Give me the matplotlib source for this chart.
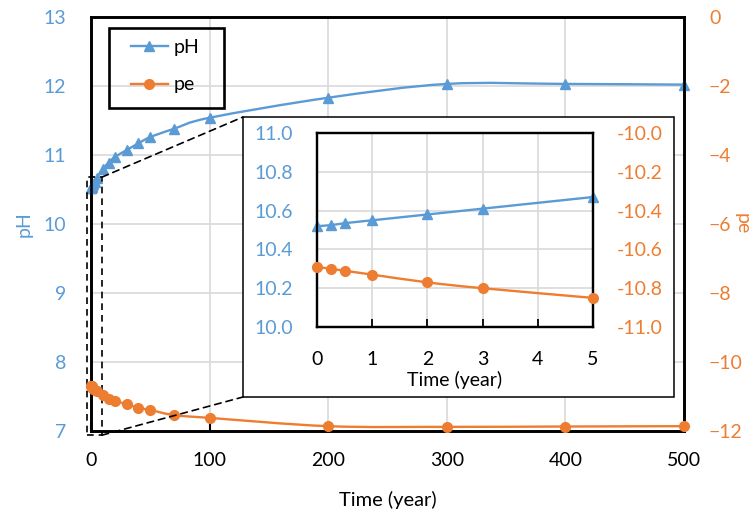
import matplotlib
matplotlib.use("Agg")
import matplotlib.pyplot as plt
from matplotlib.path import Path
from matplotlib.patches import PathPatch, Rectangle, ConnectionPatch
from matplotlib.lines import Line2D

plt.rcParams["font.family"] = ["Lato", "DejaVu Sans"]
plt.rcParams["font.size"] = 14

# data
time_yr = [0, 0.25, 0.5, 1, 2, 3, 5, 10, 15, 20, 30, 40, 50, 70, 100, 200, 300, 400, 500]
ph_vals = [10.52, 10.525, 10.535, 10.55, 10.58, 10.61, 10.67, 10.80, 10.89, 10.97,
           11.07, 11.17, 11.26, 11.38, 11.54, 11.83, 12.03, 12.03, 12.02]
pe_vals = [-10.69, -10.70, -10.71, -10.73, -10.77, -10.80, -10.85, -10.96, -11.07, -11.13,
           -11.22, -11.33, -11.39, -11.54, -11.62, -11.86, -11.88, -11.87, -11.86]
main_xticks = [0, 100, 200, 300, 400, 500]
ph_ticks = [7, 8, 9, 10, 11, 12, 13]
pe_ticks = [-12, -10, -8, -6, -4, -2, 0]
inset_xticks = [0, 1, 2, 3, 4, 5]
inset_ph_ticks = [10.0, 10.2, 10.4, 10.6, 10.8, 11.0]
inset_pe_ticks = [-11.0, -10.8, -10.6, -10.4, -10.2, -10.0]

BLUE = "#5B9BD5"
ORANGE = "#ED7D31"
GRID = "#D9D9D9"
W, H = 753, 517


def smooth_path(x, y):
    # Excel-style smoothed line: Catmull-Rom segments as cubic Beziers
    verts = [(x[0], y[0])]
    codes = [Path.MOVETO]
    n = len(x)
    for i in range(n - 1):
        x0, y0 = (x[i - 1], y[i - 1]) if i > 0 else (x[i], y[i])
        x3, y3 = (x[i + 2], y[i + 2]) if i + 2 < n else (x[i + 1], y[i + 1])
        c1 = (x[i] + (x[i + 1] - x0) / 6, y[i] + (y[i + 1] - y0) / 6)
        c2 = (x[i + 1] - (x3 - x[i]) / 6, y[i + 1] - (y3 - y[i]) / 6)
        verts += [c1, c2, (x[i + 1], y[i + 1])]
        codes += [Path.CURVE4] * 3
    return Path(verts, codes)


def draw_series(ax, x, y, color, marker, ms):
    ax.add_patch(PathPatch(smooth_path(x, y), fill=False, edgecolor=color,
                           lw=1.7, zorder=3, clip_on=False))
    ax.plot(x, y, ls="none", marker=marker, color=color, markersize=ms,
            zorder=4, clip_on=False)


def draw_grid(ax, xs, ys):
    for v in xs:
        ax.axvline(v, color=GRID, lw=1.2, zorder=0.5)
    for v in ys:
        ax.axhline(v, color=GRID, lw=1.2, zorder=0.5)


def fx(px):
    return px / W


def fy(py):
    return 1 - py / H


fig = plt.figure(figsize=(W / 100, H / 100), dpi=100)

# ---- main chart ----
ax = fig.add_axes([fx(91), fy(431), (684 - 91) / W, (431 - 17) / H])
ax2 = ax.twinx()
ax.set_zorder(0)
ax2.set_zorder(1)

draw_grid(ax, main_xticks[1:-1], ph_ticks[1:-1])
draw_series(ax, time_yr, ph_vals, BLUE, "^", 7.5)
draw_series(ax2, time_yr, pe_vals, ORANGE, "o", 7)

ax.set_xlim(0, 500)
ax.set_ylim(7, 13)
ax2.set_ylim(-12, 0)
ax.set_xticks(main_xticks)
ax.set_yticks(ph_ticks)
ax2.set_yticks(pe_ticks)
for a in (ax, ax2):
    for s in a.spines.values():
        s.set_linewidth(1.9)
        s.set_color("black")
ax.tick_params(axis="x", direction="in", length=6, width=1.5, pad=15, colors="black")
ax.tick_params(axis="y", length=0, pad=18, labelcolor=BLUE)
ax2.tick_params(axis="y", length=0, pad=18, labelcolor=ORANGE)

ax.set_xlabel("Time (year)", fontsize=14.5)
ax.xaxis.set_label_coords(0.5, -0.167)
ax.xaxis.label.set_va("center")
ax.set_ylabel("pH", color=BLUE, va="center", ha="center")
ax.yaxis.set_label_coords(-0.113, 0.5)
ax2.set_ylabel("pe", color=ORANGE, rotation=-90, va="center", ha="center")
ax2.yaxis.set_label_coords(1.098, 0.5)

# legend: contents placed without frame, frame drawn as its own box
handles = [Line2D([], [], color=BLUE, marker="^", lw=1.7, markersize=7.5),
           Line2D([], [], color=ORANGE, marker="o", lw=1.7, markersize=7)]
leg = ax2.legend(handles, ["pH", "pe"], loc="upper left",
                 bbox_to_anchor=(fx(131), fy(39)), bbox_transform=fig.transFigure,
                 borderaxespad=0, borderpad=0, labelspacing=1.05,
                 handlelength=1.9, handletextpad=0.3, frameon=False)
fig.add_artist(Rectangle((fx(109), fy(108)), (224 - 109) / W, (108 - 28) / H,
                         transform=fig.transFigure, fill=False,
                         edgecolor="black", lw=1.9, zorder=2))

# ---- zoom box and connectors ----
zoom_x0, zoom_x1 = -3.4, 9.3
zoom_y0, zoom_y1 = 6.94, 10.68
ax.add_patch(Rectangle((zoom_x0, zoom_y0), zoom_x1 - zoom_x0, zoom_y1 - zoom_y0,
                       fill=False, ls=(0, (4, 3)), lw=1.2, color="black",
                       clip_on=False, zorder=5))

box_l, box_r, box_t, box_b = fx(243), fx(674), fy(117), fy(397)
for (dx, dy), (bx, by) in (((zoom_x1, zoom_y1), (box_l, box_t)),
                           ((zoom_x1, zoom_y0), (box_l, box_b))):
    fig.add_artist(ConnectionPatch((dx, dy), (bx, by), coordsA=ax.transData,
                                   coordsB=fig.transFigure, ls=(0, (4, 3)),
                                   lw=1.2, color="black", zorder=2))

fig.add_artist(Rectangle((box_l, box_b), box_r - box_l, box_t - box_b,
                         transform=fig.transFigure, facecolor="white",
                         edgecolor="black", lw=1.1, zorder=3))

# ---- inset ----
ins = fig.add_axes([fx(317), fy(327), (593 - 317) / W, (327 - 133) / H])
ins2 = ins.twinx()
ins.set_zorder(4)
ins2.set_zorder(5)
n5 = sum(1 for t in time_yr if t <= 5)
draw_grid(ins, inset_xticks[1:-1], inset_ph_ticks[1:-1])
draw_series(ins, time_yr[:n5], ph_vals[:n5], BLUE, "^", 7.5)
draw_series(ins2, time_yr[:n5], pe_vals[:n5], ORANGE, "o", 7)
ins.set_xlim(0, 5)
ins.set_ylim(10.0, 11.0)
ins2.set_ylim(-11.0, -10.0)
ins.set_xticks(inset_xticks)
ins.set_yticks(inset_ph_ticks)
ins2.set_yticks(inset_pe_ticks)
ins.set_yticklabels([f"{v:.1f}" for v in inset_ph_ticks])
ins2.set_yticklabels([f"{v:.1f}" for v in inset_pe_ticks])
for a in (ins, ins2):
    for s in a.spines.values():
        s.set_linewidth(1.6)
        s.set_color("black")
ins.tick_params(axis="x", direction="in", length=6, width=1.3, pad=17, colors="black")
ins.tick_params(axis="y", length=0, pad=17, labelcolor=BLUE)
ins2.tick_params(axis="y", length=0, pad=17, labelcolor=ORANGE)
ins.set_xlabel("Time (year)")
ins.xaxis.set_label_coords(0.5, -0.273)
ins.xaxis.label.set_va("center")

fig.savefig("out.png", dpi=100)
